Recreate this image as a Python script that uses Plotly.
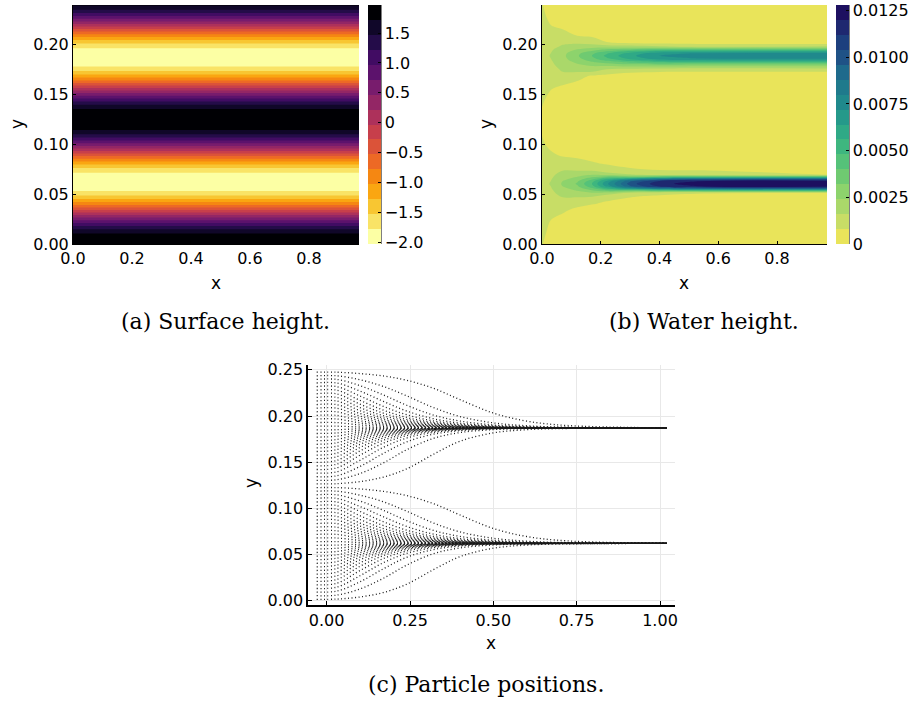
import plotly.graph_objects as go
from plotly.colors import sample_colorscale, get_colorscale

W, H = 916, 704

# ---------------- (a) Surface height: profile across y (constant along x) ----------------
surf_x = [0.0, 0.97]
surf_y = [0.000, 0.005, 0.010, 0.015, 0.020, 0.025, 0.030, 0.035, 0.040, 0.045,
          0.050, 0.055, 0.060, 0.065, 0.070, 0.075, 0.080, 0.085, 0.090, 0.095,
          0.100, 0.105, 0.110, 0.115, 0.120, 0.125, 0.130, 0.135, 0.140, 0.145,
          0.150, 0.155, 0.160, 0.165, 0.170, 0.175, 0.180, 0.185, 0.190, 0.195,
          0.200, 0.205, 0.210, 0.215, 0.220, 0.225, 0.230, 0.235, 0.240]
surf_h = [2.00, 1.94, 1.75, 1.46, 1.07, 0.62, 0.13, -0.37, -0.85, -1.27,
          -1.62, -1.86, -1.98, -1.98, -1.86, -1.62, -1.27, -0.85, -0.37, 0.13,
          0.62, 1.07, 1.46, 1.75, 1.94, 2.00, 1.94, 1.75, 1.46, 1.07,
          0.62, 0.13, -0.37, -0.85, -1.27, -1.62, -1.86, -1.98, -1.98, -1.86,
          -1.62, -1.27, -0.85, -0.37, 0.13, 0.62, 1.07, 1.46, 1.75]
surf_levels = dict(start=-1.78, end=1.72, size=0.25)
surf_cb_range = [-2.03, 1.97]
surf_cb_vals = [-2.0, -1.5, -1.0, -0.5, 0.0, 0.5, 1.0, 1.5]
surf_cb_text = ["\u22122.0", "\u22121.5", "\u22121.0", "\u22120.5", "0", "0.5", "1.0", "1.5"]

# ---------------- (b) Water height (units of 1e-4), rows = water_y, cols = water_x ----------------
water_x = [0.0, 0.03, 0.07, 0.12, 0.17, 0.22, 0.30, 0.40, 0.55, 0.97]
water_y = [0.000, 0.012, 0.024, 0.034, 0.0405, 0.0475, 0.0515, 0.054, 0.056, 0.058,
           0.0605, 0.063, 0.065, 0.067, 0.0695, 0.0735, 0.0805, 0.090, 0.101, 0.112,
           0.123, 0.134, 0.145, 0.157, 0.169, 0.173, 0.176, 0.180, 0.1825, 0.1845,
           0.1865, 0.189, 0.1915, 0.1935, 0.1955, 0.198, 0.202, 0.209, 0.218, 0.228, 0.240]
water_h = [
    [8.5, 4, 3, 2, 1, 0.5, 0, 0, 0, 0],
    [10, 6, 4, 3, 2, 1, 0.5, 0, 0, 0],
    [11, 8, 6, 4, 3, 1.5, 1, 0.5, 0, 0],
    [11.5, 10.5, 9, 6.5, 4.5, 3, 2, 1, 0.5, 0],
    [12, 11.5, 12, 10, 8.5, 7, 4, 3, 2, 1],
    [12.5, 13, 16.5, 16.5, 16, 10, 8.5, 6, 4, 3],
    [13, 14.5, 18.5, 21, 24, 22, 16, 12, 9, 8.5],
    [13, 15, 20, 25, 32, 40, 40, 48, 52, 55],
    [13, 15.5, 22, 28, 39, 55, 74, 90, 98, 102],
    [13.5, 16, 24, 31, 45, 66, 95, 114, 121, 124],
    [13.5, 16.5, 25, 33, 48, 70, 100, 118, 124, 126],
    [13.5, 16, 24, 31, 45, 66, 95, 114, 121, 124],
    [13, 15.5, 22, 28, 39, 55, 74, 90, 98, 102],
    [13, 15, 20, 25, 32, 40, 40, 48, 52, 55],
    [13, 14.5, 18.5, 21, 24, 22, 17, 13, 10, 7.8],
    [12.5, 13, 16, 16, 16, 12, 10, 8.5, 8.5, 3],
    [12, 11.5, 11.5, 11, 9, 7.5, 5, 4, 3, 1],
    [11, 9, 7, 6, 5, 3.5, 2, 1.5, 1, 0.5],
    [9, 6, 4, 3, 2, 1.5, 1, 0.5, 0.5, 0],
    [7.5, 4, 3, 2, 1, 1, 0.5, 0, 0, 0],
    [6, 3, 2, 2, 1, 0.5, 0.5, 0, 0, 0],
    [7.5, 4, 3, 2, 1, 1, 0.5, 0, 0, 0],
    [9, 6, 4, 3, 2, 1, 1, 0.5, 0.5, 0],
    [11, 8.5, 7, 5.5, 3.5, 2.5, 2, 1.5, 1, 0.5],
    [12, 11, 12, 10, 7.5, 6, 5, 4, 3, 3],
    [12.5, 12, 16, 16.5, 16.5, 12, 9, 8.2, 8.2, 8.2],
    [12.5, 13, 17.5, 19, 20, 17, 16, 15, 14, 15],
    [13, 14.5, 19, 23, 26, 27, 30, 32, 30, 30],
    [13, 15, 20, 25.5, 31, 35, 42, 47, 48, 48],
    [13, 15.5, 21, 28, 35, 42, 52, 60, 63, 64],
    [13, 16, 21.5, 30, 38, 47, 59, 69, 73, 75],
    [13, 16.5, 22, 31, 40, 50, 62, 72, 77, 80],
    [13, 16, 21.5, 30, 38, 47, 59, 69, 73, 75],
    [13, 15.5, 20.5, 27, 33, 40, 50, 58, 60, 60],
    [13, 15, 19, 24, 28, 32, 36, 40, 40, 40],
    [12.5, 14, 17, 20, 21, 21, 20, 18, 16, 18],
    [12.5, 12.5, 15, 15, 13, 8.5, 7, 6, 5, 4],
    [12, 11, 11, 8, 7, 4, 3, 2, 1.5, 1],
    [11, 8.5, 7, 5, 4, 2, 1.5, 1, 0.5, 0],
    [10, 6, 5, 3, 2, 1, 0.5, 0, 0, 0],
    [8.5, 4, 3, 2, 1, 0.5, 0, 0, 0, 0],
]
water_levels = dict(start=0.0008, end=0.012, size=0.0008)
water_cb_range = [0.0, 0.0128]
water_cb_vals = [0.0, 0.0025, 0.005, 0.0075, 0.01, 0.0125]
water_cb_text = ["0", "0.0025", "0.0050", "0.0075", "0.0100", "0.0125"]
# band colours, lowest band first
water_band_colors = ["#e9e45a", "#c8dd66", "#aad86a", "#8dd36c", "#6fca71", "#55c279",
                     "#3eb67f", "#2fa986", "#25998a", "#20898c", "#1f7a8c", "#1e6a8c",
                     "#1f5286", "#1d3f7e", "#1e2870", "#1d1060"]

# ---------------- (c) Particle positions ----------------
path_x = [-0.03, 0.03, 0.10, 0.17, 0.24, 0.32, 0.40, 0.50, 0.60, 0.72, 1.02]
channel_centers = [0.062, 0.187]
# distance from channel centre (units of 1e-4) for particles starting above the centre
offset_above = [
    [20, 20, 11, 6, 3, 2, 1, 0, 0, 0, 0],
    [59, 59, 33, 19, 11, 5, 3, 1, 1, 0, 0],
    [98, 98, 56, 32, 18, 9, 5, 2, 1, 0, 0],
    [137, 137, 79, 45, 25, 13, 7, 3, 1, 0, 0],
    [176, 176, 104, 59, 34, 17, 9, 4, 2, 1, 0],
    [215, 215, 130, 75, 42, 22, 11, 5, 2, 1, 0],
    [254, 254, 157, 92, 52, 27, 14, 6, 3, 1, 0],
    [293, 293, 188, 111, 64, 33, 17, 8, 3, 1, 0],
    [332, 332, 221, 134, 77, 41, 21, 9, 4, 2, 0],
    [371, 371, 259, 161, 94, 50, 26, 11, 5, 2, 0],
    [410, 410, 300, 194, 115, 61, 32, 14, 6, 2, 0],
    [449, 449, 347, 235, 144, 77, 40, 18, 8, 3, 0],
    [488, 488, 400, 289, 184, 101, 53, 24, 10, 4, 0],
    [527, 527, 459, 359, 247, 141, 76, 34, 15, 6, 0],
    [566, 566, 523, 451, 349, 222, 125, 56, 25, 9, 1],
    [605, 605, 590, 564, 518, 431, 308, 162, 75, 28, 2],
]
# same for particles starting below the centre
offset_below = [
    [20, 18, 8, 4, 2, 1, 0, 0, 0, 0, 0],
    [59, 53, 25, 12, 6, 3, 1, 0, 0, 0, 0],
    [98, 88, 43, 21, 10, 4, 2, 1, 0, 0, 0],
    [137, 124, 61, 29, 14, 6, 3, 1, 0, 0, 0],
    [176, 160, 80, 39, 19, 8, 3, 1, 0, 0, 0],
    [215, 197, 101, 49, 24, 10, 4, 2, 1, 0, 0],
    [254, 234, 123, 61, 29, 13, 5, 2, 1, 0, 0],
    [293, 272, 148, 74, 36, 15, 7, 2, 1, 0, 0],
    [332, 311, 177, 89, 43, 19, 8, 3, 1, 0, 0],
    [371, 351, 210, 108, 53, 23, 10, 3, 1, 0, 0],
    [410, 391, 248, 132, 65, 28, 12, 4, 2, 0, 0],
    [449, 432, 294, 164, 82, 36, 16, 5, 2, 1, 0],
    [488, 474, 350, 209, 108, 47, 21, 7, 3, 1, 0],
    [527, 517, 416, 275, 150, 67, 29, 10, 4, 1, 0],
    [566, 560, 493, 378, 235, 112, 49, 17, 6, 2, 0],
    [605, 603, 580, 532, 442, 285, 143, 52, 18, 5, 0],
]

captions = ["(a) Surface height.", "(b) Water height.", "(c) Particle positions."]

# ---------------- helpers ----------------
TICKFONT = dict(family="DejaVu Sans", size=16, color="black")


def fx(p):
    """window pixel x -> paper fraction"""
    return p / W


def fy(p):
    """window pixel y -> paper fraction"""
    return 1 - p / H


def band_scale(colors):
    """colorscale for a filled contour: band k sits at k/(n-1)"""
    n = len(colors)
    return [[k / (n - 1), c] for k, c in enumerate(colors)]


def stepped(colors):
    n = len(colors)
    out = []
    for k, c in enumerate(colors):
        out.append([k / n, c])
        out.append([(k + 1) / n, c])
    return out


def cbar(xpix, vals, text):
    return dict(x=fx(xpix), xanchor="left", y=(fy(244) + fy(5)) / 2, yanchor="middle",
                len=239 / H, lenmode="fraction", thickness=13, thicknessmode="pixels",
                xpad=0, ypad=0, outlinewidth=0, ticks="inside", ticklen=3,
                tickwidth=1, tickcolor="black", tickvals=vals, ticktext=text,
                tickfont=TICKFONT, ticklabeloverflow="allow")


nb = 16
surf_band_colors = sample_colorscale(get_colorscale("Inferno"), [1 - k / (nb - 1) for k in range(nb)])

fig = go.Figure()

# (a) surface height
fig.add_trace(go.Contour(
    x=surf_x, y=surf_y, z=[[h, h] for h in surf_h],
    colorscale=band_scale(surf_band_colors), showscale=False,
    contours=dict(coloring="fill", showlines=False, **surf_levels),
    line=dict(width=0), xaxis="x", yaxis="y", hoverinfo="skip",
))
fig.add_trace(go.Scatter(
    x=surf_x[:1], y=surf_y[:1], mode="markers", xaxis="x", yaxis="y", hoverinfo="skip",
    marker=dict(size=1, opacity=0, color=surf_h[:1], cmin=surf_cb_range[0], cmax=surf_cb_range[1],
                colorscale=stepped(surf_band_colors), showscale=True,
                colorbar=cbar(368, surf_cb_vals, surf_cb_text)),
))

# (b) water height
fig.add_trace(go.Contour(
    x=water_x, y=water_y, z=[[v * 1e-4 for v in row] for row in water_h],
    colorscale=band_scale(water_band_colors), showscale=False,
    contours=dict(coloring="fill", showlines=False, **water_levels),
    line=dict(width=0), xaxis="x2", yaxis="y2", hoverinfo="skip",
))
fig.add_trace(go.Scatter(
    x=water_x[:1], y=water_y[:1], mode="markers", xaxis="x2", yaxis="y2", hoverinfo="skip",
    marker=dict(size=1, opacity=0, color=[water_h[0][0] * 1e-4], cmin=water_cb_range[0],
                cmax=water_cb_range[1], colorscale=stepped(water_band_colors), showscale=True,
                colorbar=cbar(836, water_cb_vals, water_cb_text)),
))

# (c) particle paths
for c in channel_centers:
    for sign, table in ((1, offset_above), (-1, offset_below)):
        for row in table:
            fig.add_trace(go.Scatter(
                x=path_x, y=[c + sign * v * 1e-4 for v in row],
                mode="lines",
                line=dict(color="#1a1a1a", width=1.3, dash="1px,2.5px", shape="spline"),
                xaxis="x3", yaxis="y3", showlegend=False, hoverinfo="skip",
            ))

heat_axis = dict(showline=True, linecolor="black", linewidth=1, ticks="inside", ticklen=3,
                 tickcolor="black", showgrid=False, zeroline=False, tickfont=TICKFONT)
line_axis = dict(showline=True, linecolor="black", linewidth=1.6, ticks="inside", ticklen=4,
                 tickcolor="black", showgrid=True, gridcolor="#e8e8e8", gridwidth=1,
                 zeroline=False, tickfont=TICKFONT)

fig.update_layout(
    width=W, height=H, autosize=False,
    margin=dict(l=0, r=0, t=0, b=0, autoexpand=False),
    paper_bgcolor="white", plot_bgcolor="white",
    font=dict(family="DejaVu Sans", size=16, color="black"),
    showlegend=False,
    xaxis=dict(domain=[fx(73), fx(359)], range=[0, 0.97], anchor="y",
               tickvals=[0, 0.2, 0.4, 0.6, 0.8], ticktext=["0.0", "0.2", "0.4", "0.6", "0.8"], **heat_axis),
    yaxis=dict(domain=[fy(244), fy(5)], range=[0, 0.24], anchor="x",
               tickvals=[0, 0.05, 0.1, 0.15, 0.2], ticktext=["0.00", "0.05", "0.10", "0.15", "0.20"], **heat_axis),
    xaxis2=dict(domain=[fx(542), fx(827)], range=[0, 0.97], anchor="y2",
                tickvals=[0, 0.2, 0.4, 0.6, 0.8], ticktext=["0.0", "0.2", "0.4", "0.6", "0.8"], **heat_axis),
    yaxis2=dict(domain=[fy(244), fy(5)], range=[0, 0.24], anchor="x2",
                tickvals=[0, 0.05, 0.1, 0.15, 0.2], ticktext=["0.00", "0.05", "0.10", "0.15", "0.20"], **heat_axis),
    xaxis3=dict(domain=[fx(308), fx(675)], range=[-0.056, 1.045], anchor="y3",
                tickvals=[0, 0.25, 0.5, 0.75, 1.0], ticktext=["0.00", "0.25", "0.50", "0.75", "1.00"],
                **line_axis),
    yaxis3=dict(domain=[fy(605), fy(365)], range=[-0.0047, 0.2553], anchor="x3",
                tickvals=[0, 0.05, 0.1, 0.15, 0.2, 0.25],
                ticktext=["0.00", "0.05", "0.10", "0.15", "0.20", "0.25"], **line_axis),
)

# colour-bar axis lines (right edge of each bar)
for xl in (381, 849):
    fig.add_shape(type="line", xref="paper", yref="paper", x0=fx(xl), x1=fx(xl),
                  y0=fy(244), y1=fy(5), line=dict(color="black", width=1))

ann = []
for (x, y, t, ang) in [(216, 283, "x", 0), (17, 124, "y", -90),
                       (684, 283, "x", 0), (486, 124, "y", -90),
                       (491, 643, "x", 0), (251, 483, "y", -90)]:
    ann.append(dict(x=fx(x), y=fy(y), xref="paper", yref="paper", text=t, textangle=ang,
                    showarrow=False, xanchor="center", yanchor="middle",
                    font=dict(family="DejaVu Sans", size=17, color="black")))
for (x, y), t in zip([(225, 321), (704, 321), (486, 684)], captions):
    ann.append(dict(x=fx(x), y=fy(y), xref="paper", yref="paper", text=t, showarrow=False,
                    xanchor="center", yanchor="middle",
                    font=dict(family="DejaVu Serif", size=22, color="black")))
fig.update_layout(annotations=ann)

# the page's default 8 px body margin would shift the figure; remove it
fig.write_html("out.html",
               config={"displayModeBar": False, "staticPlot": True},
               post_script="document.body.style.margin='0';document.body.style.overflow='hidden';")
